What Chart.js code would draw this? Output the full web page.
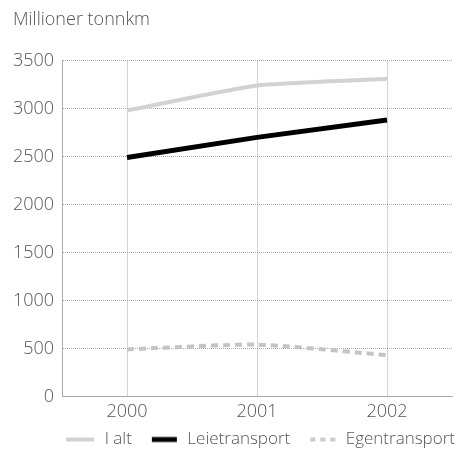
<!DOCTYPE html>
<html><head><meta charset="utf-8">
<script src="https://cdn.jsdelivr.net/npm/chart.js@4/dist/chart.umd.min.js"></script>
<style>html,body{margin:0;padding:0;background:#fff;}#wrap{width:457px;height:453px;}</style>
</head><body><div id="wrap"><canvas id="c" width="457" height="453"></canvas></div>
<script>
const categories = ['2000', '2001', '2002'];
const iAlt = [2980, 3240, 3310];
const leietransport = [2490, 2700, 2880];
const egentransport = [490, 540, 430];
const yTicks = [0, 500, 1000, 1500, 2000, 2500, 3000, 3500];
const FONT = '"Open Sans", "DejaVu Sans", sans-serif';
const TXT = '#555';
const GRID = '#aaaaaa';

function legendSymbol(color, width, dash, len) {
  const cv = document.createElement('canvas');
  cv.width = 44; cv.height = 10;
  const g = cv.getContext('2d');
  g.strokeStyle = color; g.lineWidth = width;
  if (dash) g.setLineDash(dash);
  g.beginPath(); g.moveTo(42 - len, 5); g.lineTo(42, 5); g.stroke();
  return cv;
}

const stretchPlugin = {
  id: 'stretch',
  beforeLayout(chart) {
    const b = chart.legend;
    if (!b || b._wrapped) return;
    b._wrapped = true;
    const od = b.draw.bind(b);
    b.draw = function(a) { const p = chart.ctx.fontStretch; chart.ctx.fontStretch = 'condensed'; od(a); chart.ctx.fontStretch = p; };
    const of = b.fit.bind(b);
    b.fit = function(...args) { const p = chart.ctx.fontStretch; chart.ctx.fontStretch = 'condensed'; const r = of(...args); chart.ctx.fontStretch = p; return r; };
  },
  afterLayout(chart) {
    const b = chart.legend;
    if (b) { b.left += 6; b.right += 6; }
  }
};

new Chart(document.getElementById('c'), {
  type: 'line',
  data: {
    labels: categories,
    datasets: [
      {label: 'I alt', data: iAlt, borderColor: '#d2d2d2', backgroundColor: '#d2d2d2', borderWidth: 4, pointRadius: 0, tension: 0.15,
        pointStyle: legendSymbol('#d2d2d2', 4, null, 28)},
      {label: 'Leietransport', data: leietransport, borderColor: '#000', backgroundColor: '#000', borderWidth: 5, pointRadius: 0,
        pointStyle: legendSymbol('#000', 5, null, 25)},
      {label: 'Egentransport', data: egentransport, borderColor: '#c4c4c4', backgroundColor: '#c4c4c4', borderWidth: 4, borderDash: [7, 5], pointRadius: 0, tension: 0.2,
        pointStyle: legendSymbol('#cccccc', 4, [5, 5], 25)}
    ]
  },
  options: {
    responsive: false,
    animation: false,
    devicePixelRatio: 1,
    layout: {padding: {left: 13, right: 5, top: 4, bottom: -5}},
    plugins: {
      title: {display: true, text: 'Millioner tonnkm', align: 'start', color: TXT,
        font: {family: FONT, size: 18, weight: '300'}, padding: {top: 5, bottom: 30}},
      legend: {position: 'bottom', align: 'end', labels: {usePointStyle: true, pointStyleWidth: 44, boxWidth: 44, boxHeight: 17,
        color: TXT, padding: 3, font: {family: FONT, size: 17, weight: '300'}}},
      tooltip: {enabled: false}
    },
    scales: {
      x: {
        offset: true,
        grid: {offset: false, color: (c) => (c.type === 'tick') ? GRID : 'rgba(0,0,0,0)', lineWidth: 1, drawTicks: false},
        border: {display: true, color: GRID, dash: [1, 1]},
        ticks: {color: TXT, padding: 5, font: {family: FONT, size: 18, weight: '300'}}
      },
      y: {
        min: 0, max: 3500,
        afterBuildTicks: (s) => { s.ticks = yTicks.map(v => ({value: v})); },
        afterFit: (s) => { s.width = 49; },
        grid: {color: GRID, lineWidth: 1, drawTicks: false},
        border: {display: true, color: GRID, dash: [1, 1]},
        ticks: {color: TXT, padding: 8, font: {family: FONT, size: 18, weight: '300'},
          callback: (v) => String(v)}
      }
    }
  },
  plugins: [stretchPlugin]
});
</script></body></html>
